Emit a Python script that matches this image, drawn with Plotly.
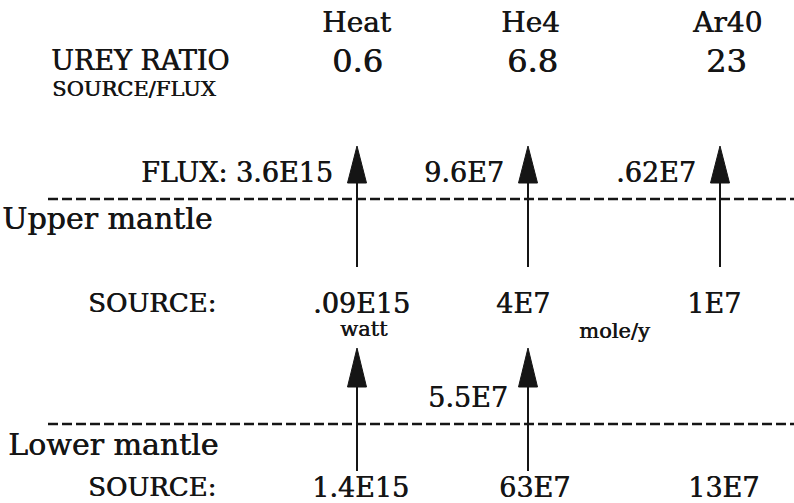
import plotly.graph_objects as go

# ---- data (text values) ----
species = ["Heat", "He4", "Ar40"]
urey_ratio = ["0.6", "6.8", "23"]
flux_values = ["3.6E15", "9.6E7", ".62E7"]
upper_source = [".09E15", "4E7", "1E7"]
lower_flux = ["", "5.5E7", None]      # None = no arrow from lower mantle
lower_source = ["1.4E15", "63E7", "13E7"]
units = ["watt", "mole/y"]

# ---- layout (pixel coordinates of the 794x503 canvas) ----
W, H = 794, 503
col_x = [357, 528, 720]
FONT = "DejaVu Serif"
INK = "#151515"
SHADOW = "0.6px 0px 0px #151515"

fig = go.Figure()
fig.add_trace(go.Scatter(x=[0, W], y=[0, H], mode="markers",
                         marker=dict(opacity=0), hoverinfo="skip", showlegend=False))

ann = []
def txt(x, y, s, size, xanchor="center"):
    ann.append(dict(x=x, y=y, xref="x", yref="y", text=s, showarrow=False,
                    xanchor=xanchor, yanchor="middle",
                    font=dict(family=FONT, size=size, color=INK, shadow=SHADOW)))

# header
txt(49, 60, "UREY RATIO", 27, "left")
txt(50, 89, "SOURCE/FLUX", 21, "left")
sp_dx = [0, 2, 7]
for i, s in enumerate(species):
    txt(col_x[i] + sp_dx[i], 22, s, 28)
ur_dx = [0, 4, 6]
for i, s in enumerate(urey_ratio):
    txt(col_x[i] + ur_dx[i], 61, s, 32)

# flux row
for i, s in enumerate(flux_values):
    label = ("FLUX: " + s) if i == 0 else s
    txt(col_x[i] - 22, 172, label, 27, "right")

txt(0, 218, "Upper mantle", 30, "left")

# upper source row
txt(152, 303, "SOURCE:", 26)
us_dx = [4, -5, -6]
for i, s in enumerate(upper_source):
    txt(col_x[i] + us_dx[i], 303, s, 27)
txt(364, 329, units[0], 21)
txt(614, 331, units[1], 21)

# lower flux labels
for i, s in enumerate(lower_flux):
    if s:
        txt(col_x[i] - 18, 397, s, 27, "right")

txt(6, 444, "Lower mantle", 30, "left")

# lower source row
txt(152, 487, "SOURCE:", 26)
ls_dx = [3, 6, 3]
for i, s in enumerate(lower_source):
    txt(col_x[i] + ls_dx[i], 487, s, 27)

shapes = []
# dashed boundaries
for yb in (199, 424):
    shapes.append(dict(type="line", x0=48, x1=W, y0=yb, y1=yb, xref="x", yref="y",
                       line=dict(color=INK, width=2.5, dash="10px,4px")))

def arrow(x, tip, base, end):
    shapes.append(dict(type="line", x0=x, x1=x, y0=base - 2, y1=end, xref="x", yref="y",
                       line=dict(color=INK, width=2)))
    shapes.append(dict(type="path", xref="x", yref="y",
                       path=f"M {x-9.5},{base} L {x},{tip} L {x+9.5},{base} Z",
                       fillcolor=INK, line=dict(color=INK, width=1)))

for i in range(3):
    arrow(col_x[i], 146, 183, 267)
for i, s in enumerate(lower_flux):
    if s is not None:
        arrow(col_x[i], 348, 387, 471)

fig.update_layout(
    width=W, height=H, margin=dict(l=0, r=0, t=0, b=0),
    paper_bgcolor="white", plot_bgcolor="white",
    xaxis=dict(range=[0, W], visible=False, fixedrange=True),
    yaxis=dict(range=[H, 0], visible=False, fixedrange=True),
    annotations=ann, shapes=shapes, showlegend=False,
)
fig.write_html("out.html", config=dict(displayModeBar=False),
               post_script="document.body.style.margin='0';document.body.style.overflow='hidden';")
